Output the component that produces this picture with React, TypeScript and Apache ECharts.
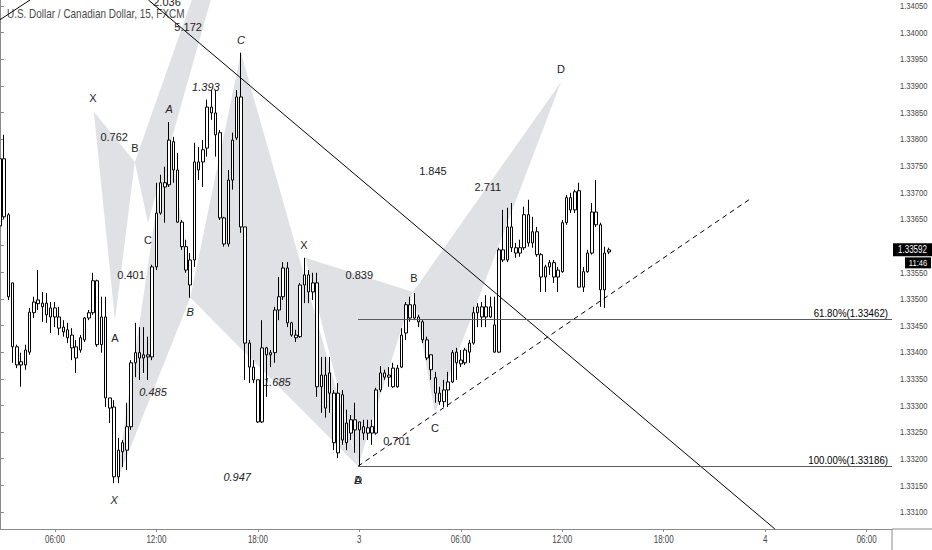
import React, { useEffect, useRef } from 'react';
import * as echarts from 'echarts';

// 15-minute bars, [open, close, low, high]; index 0 is day 2, 02:45
const candles = [
  [1.33637, 1.33763, 1.33630, 1.33780], [1.33763, 1.33654, 1.33650, 1.33808], [1.33658, 1.33504, 1.33498, 1.33661],
  [1.33530, 1.33410, 1.33380, 1.33530], [1.33410, 1.33376, 1.33370, 1.33414], [1.33376, 1.33382, 1.33335, 1.33399],
  [1.33376, 1.33404, 1.33367, 1.33414], [1.33400, 1.33475, 1.33395, 1.33483], [1.33474, 1.33494, 1.33464, 1.33504],
  [1.33491, 1.33498, 1.33479, 1.33554], [1.33492, 1.33485, 1.33457, 1.33513], [1.33492, 1.33470, 1.33455, 1.33511],
  [1.33466, 1.33483, 1.33436, 1.33494], [1.33483, 1.33466, 1.33447, 1.33494], [1.33466, 1.33445, 1.33432, 1.33485],
  [1.33447, 1.33438, 1.33429, 1.33460], [1.33442, 1.33427, 1.33417, 1.33455], [1.33432, 1.33408, 1.33385, 1.33445],
  [1.33410, 1.33389, 1.33361, 1.33423], [1.33404, 1.33427, 1.33399, 1.33432], [1.33423, 1.33464, 1.33419, 1.33466],
  [1.33464, 1.33474, 1.33460, 1.33479], [1.33474, 1.33534, 1.33470, 1.33549], [1.33534, 1.33414, 1.33410, 1.33536],
  [1.33414, 1.33466, 1.33399, 1.33504], [1.33466, 1.33314, 1.33297, 1.33504], [1.33314, 1.33295, 1.33267, 1.33314],
  [1.33297, 1.33166, 1.33154, 1.33310], [1.33166, 1.33216, 1.33154, 1.33239], [1.33213, 1.33230, 1.33184, 1.33235],
  [1.33216, 1.33260, 1.33179, 1.33305], [1.33260, 1.33380, 1.33254, 1.33385], [1.33380, 1.33399, 1.33353, 1.33455],
  [1.33399, 1.33389, 1.33348, 1.33447], [1.33389, 1.33395, 1.33361, 1.33447], [1.33391, 1.33395, 1.33348, 1.33429],
  [1.33391, 1.33560, 1.33385, 1.33564], [1.33560, 1.33661, 1.33554, 1.33718], [1.33661, 1.33718, 1.33658, 1.33733],
  [1.33718, 1.33710, 1.33643, 1.33748], [1.33714, 1.33798, 1.33710, 1.33832], [1.33795, 1.33742, 1.33718, 1.33804],
  [1.33742, 1.33644, 1.33643, 1.33774], [1.33644, 1.33598, 1.33592, 1.33648], [1.33598, 1.33554, 1.33549, 1.33611],
  [1.33573, 1.33526, 1.33502, 1.33586], [1.33573, 1.33757, 1.33560, 1.33793], [1.33757, 1.33742, 1.33723, 1.33785],
  [1.33757, 1.33780, 1.33710, 1.33798], [1.33783, 1.33860, 1.33767, 1.33874], [1.33860, 1.33849, 1.33836, 1.33892],
  [1.33849, 1.33808, 1.33767, 1.33892], [1.33812, 1.33652, 1.33648, 1.33817], [1.33652, 1.33603, 1.33598, 1.33654],
  [1.33603, 1.33723, 1.33598, 1.33742], [1.33723, 1.33798, 1.33705, 1.33812], [1.33802, 1.33879, 1.33798, 1.33892],
  [1.33879, 1.33635, 1.33624, 1.33962], [1.33635, 1.33417, 1.33348, 1.33635], [1.33417, 1.33372, 1.33342, 1.33423],
  [1.33372, 1.33348, 1.33342, 1.33385], [1.33348, 1.33269, 1.33267, 1.33348], [1.33269, 1.33408, 1.33267, 1.33460],
  [1.33408, 1.33395, 1.33316, 1.33410], [1.33395, 1.33399, 1.33372, 1.33404], [1.33399, 1.33479, 1.33380, 1.33485],
  [1.33479, 1.33504, 1.33460, 1.33541], [1.33504, 1.33558, 1.33498, 1.33569], [1.33558, 1.33455, 1.33447, 1.33569],
  [1.33455, 1.33432, 1.33429, 1.33457], [1.33432, 1.33427, 1.33419, 1.33442], [1.33429, 1.33526, 1.33427, 1.33530],
  [1.33526, 1.33545, 1.33492, 1.33577], [1.33545, 1.33513, 1.33492, 1.33554], [1.33513, 1.33530, 1.33498, 1.33549],
  [1.33530, 1.33335, 1.33316, 1.33549], [1.33335, 1.33357, 1.33286, 1.33391], [1.33357, 1.33295, 1.33277, 1.33391],
  [1.33323, 1.33361, 1.33286, 1.33391], [1.33323, 1.33230, 1.33216, 1.33329], [1.33323, 1.33211, 1.33201, 1.33342],
  [1.33235, 1.33320, 1.33226, 1.33329], [1.33267, 1.33230, 1.33216, 1.33292], [1.33248, 1.33273, 1.33235, 1.33282],
  [1.33273, 1.33254, 1.33211, 1.33305], [1.33254, 1.33269, 1.33186, 1.33269], [1.33260, 1.33248, 1.33235, 1.33273],
  [1.33248, 1.33258, 1.33235, 1.33273], [1.33260, 1.33248, 1.33226, 1.33273], [1.33248, 1.33329, 1.33245, 1.33333],
  [1.33329, 1.33361, 1.33325, 1.33374], [1.33361, 1.33353, 1.33348, 1.33367], [1.33353, 1.33357, 1.33335, 1.33372],
  [1.33335, 1.33370, 1.33333, 1.33380], [1.33370, 1.33335, 1.33333, 1.33376], [1.33372, 1.33432, 1.33370, 1.33445],
  [1.33436, 1.33489, 1.33423, 1.33494], [1.33489, 1.33464, 1.33457, 1.33504], [1.33464, 1.33489, 1.33460, 1.33511],
  [1.33466, 1.33457, 1.33447, 1.33470], [1.33457, 1.33423, 1.33417, 1.33460], [1.33423, 1.33389, 1.33385, 1.33429],
  [1.33395, 1.33367, 1.33348, 1.33395], [1.33352, 1.33323, 1.33305, 1.33363], [1.33323, 1.33307, 1.33301, 1.33335],
  [1.33307, 1.33329, 1.33297, 1.33348], [1.33329, 1.33344, 1.33297, 1.33363], [1.33344, 1.33399, 1.33342, 1.33404],
  [1.33380, 1.33400, 1.33348, 1.33408], [1.33385, 1.33378, 1.33372, 1.33404], [1.33380, 1.33404, 1.33376, 1.33408],
  [1.33400, 1.33417, 1.33380, 1.33423], [1.33417, 1.33474, 1.33414, 1.33485], [1.33474, 1.33485, 1.33447, 1.33492],
  [1.33485, 1.33466, 1.33447, 1.33494], [1.33466, 1.33485, 1.33447, 1.33507], [1.33485, 1.33466, 1.33464, 1.33504],
  [1.33451, 1.33400, 1.33399, 1.33504], [1.33400, 1.33592, 1.33399, 1.33596], [1.33592, 1.33573, 1.33569, 1.33667],
  [1.33573, 1.33635, 1.33569, 1.33671], [1.33635, 1.33596, 1.33588, 1.33680], [1.33596, 1.33586, 1.33577, 1.33605],
  [1.33586, 1.33596, 1.33579, 1.33611], [1.33596, 1.33658, 1.33592, 1.33673], [1.33658, 1.33605, 1.33598, 1.33686],
  [1.33605, 1.33626, 1.33596, 1.33654], [1.33626, 1.33583, 1.33579, 1.33635], [1.33583, 1.33541, 1.33513, 1.33586],
  [1.33541, 1.33560, 1.33513, 1.33564], [1.33560, 1.33568, 1.33545, 1.33573], [1.33568, 1.33541, 1.33530, 1.33573],
  [1.33541, 1.33554, 1.33513, 1.33560], [1.33551, 1.33643, 1.33549, 1.33648], [1.33643, 1.33690, 1.33639, 1.33695],
  [1.33690, 1.33667, 1.33661, 1.33699], [1.33667, 1.33701, 1.33661, 1.33705], [1.33703, 1.33522, 1.33522, 1.33718],
  [1.33522, 1.33551, 1.33513, 1.33560], [1.33551, 1.33586, 1.33549, 1.33592], [1.33586, 1.33663, 1.33583, 1.33680],
  [1.33663, 1.33639, 1.33635, 1.33723], [1.33639, 1.33517, 1.33485, 1.33643], [1.33517, 1.33586, 1.33483, 1.33598],
  [1.33588, 1.33592, 1.33584, 1.33596],
];

const lastBar = 211;
const tickIndex = [13, 37, 61, 85, 109, 133, 157, 181, 205];
const tickLabels = ['06:00', '12:00', '18:00', '3', '06:00', '12:00', '18:00', '4', '06:00'];
const priceMin = 1.33068;
const priceMax = 1.34061;
const priceTicks = [
  1.331, 1.3315, 1.332, 1.3325, 1.333, 1.3335, 1.334, 1.3345, 1.335, 1.3355,
  1.336, 1.3365, 1.337, 1.3375, 1.338, 1.3385, 1.339, 1.3395, 1.34, 1.3405,
];

const lastPrice = 1.33592;
const lastTime = '11:46';

// X, A, B, C, D points of each harmonic pattern: [bar, price]
const patternLeft = [[22.2, 1.33851], [27.2, 1.3346], [31.9, 1.33757], [35.0, 1.33643], [68.1, 1.34574]];
const patternMid = [[27.4, 1.33153], [40.0, 1.33832], [45.0, 1.33502], [57.0, 1.33962], [84.7, 1.33186]];
const patternRight = [[72.2, 1.33577], [84.7, 1.33186], [97.7, 1.33513], [102.9, 1.33286], [132.7, 1.33907]];

const uprightLabels: [string, number, number][] = [
  ['X', 22.0, 1.33877], ['A', 27.2, 1.33427], ['B', 31.9, 1.33783], ['C', 35.0, 1.33611],
  ['0.762', 27.0, 1.33804], ['0.401', 31.0, 1.33545], ['2.036', 39.5, 1.34058], ['5.172', 44.5, 1.34011],
  ['X', 71.9, 1.33601], ['A', 84.7, 1.3316], ['B', 97.9, 1.33539], ['C', 102.9, 1.33258], ['D', 132.7, 1.33932],
  ['0.839', 85.0, 1.33545], ['0.701', 93.9, 1.33233], ['1.845', 102.4, 1.3374], ['2.711', 115.4, 1.3371],
];
const italicLabels: [string, number, number][] = [
  ['X', 27.0, 1.33122], ['A', 40.0, 1.33857], ['B', 45.0, 1.33475], ['C', 57.0, 1.33986], ['D', 84.7, 1.3316],
  ['1.393', 48.7, 1.33898], ['0.485', 36.2, 1.33325], ['1.685', 65.5, 1.33344], ['0.947', 56.1, 1.33166],
];

const trendLines = [
  [[0, 1.34024], [7.1, 1.34061]],
  [[35.1, 1.34061], [183.3, 1.33068]],
];
const supportLine = [[84.7, 1.33186], [177.9, 1.3369]];
const fibStart = 84.7;
const fibLevels: [string, number][] = [['61.80%', 1.33462], ['100.00%', 1.33186]];

const sansFont = '"Liberation Sans", Arial, sans-serif';
const axisGrey = '#8a8a8a';
const squeeze = 0.8; // the reference uses a condensed face for its small texts

function triangles(p: number[][]) {
  return [[p[0], p[1], p[2]], [p[2], p[3], p[4]]];
}

export default function App() {
  const chartRef = useRef<HTMLDivElement>(null);

  useEffect(() => {
    if (!chartRef.current) return;
    document.body.style.margin = '0';
    const chart = echarts.init(chartRef.current, null, { renderer: 'svg' });

    const shapes = [...triangles(patternLeft), ...triangles(patternMid), ...triangles(patternRight)];
    const visibleTicks = priceTicks.filter(v => Math.abs(v - lastPrice) > 0.0002); // 1.33600 is under the tag

    const textSeries = (labels: [string, number, number][], italic: boolean) => ({
      type: 'custom',
      z: 5,
      silent: true,
      data: labels.map(l => [l[1], l[2]]),
      renderItem: (params: any, api: any) => {
        const [t, x, y] = labels[params.dataIndex];
        const pt = api.coord([x, y]);
        return {
          type: 'text',
          x: pt[0],
          y: pt[1],
          style: {
            text: t,
            fill: '#222',
            fontSize: 11,
            fontFamily: sansFont,
            fontStyle: italic ? 'italic' : 'normal',
            align: 'center',
            verticalAlign: 'middle',
          },
        };
      },
    });

    const smallText = (text: string, x: number, y: number, align: string, vAlign: string, size = 10, fill = '#444', sx = squeeze) => ({
      type: 'text',
      x,
      y,
      scaleX: sx,
      style: { text, fill, fontSize: size, fontFamily: sansFont, align, verticalAlign: vAlign },
    });

    const option = {
      animation: false,
      backgroundColor: '#fff',
      grid: { left: 0, right: 40, top: 0, bottom: 21 },
      xAxis: {
        type: 'value',
        min: 0,
        max: lastBar,
        splitLine: { show: false },
        axisLine: { show: true, onZero: false, lineStyle: { color: axisGrey } },
        axisTick: { show: true, length: 3, customValues: tickIndex, lineStyle: { color: axisGrey } },
        axisLabel: { show: false },
      },
      yAxis: {
        type: 'value',
        position: 'right',
        min: priceMin,
        max: priceMax,
        splitLine: { show: false },
        axisLine: { show: true, lineStyle: { color: axisGrey } },
        axisTick: { show: true, length: 4, customValues: priceTicks, lineStyle: { color: axisGrey } },
        axisLabel: { show: false },
      },
      graphic: [
        {
          type: 'text',
          x: 7,
          y: 14,
          scaleX: 0.83,
          style: {
            text: 'U.S. Dollar / Canadian Dollar, 15, FXCM',
            fill: '#4a4a4a',
            fontSize: 12,
            fontFamily: sansFont,
            verticalAlign: 'middle',
          },
        },
        { type: 'line', shape: { x1: 892, y1: 529, x2: 892, y2: 550 }, style: { stroke: axisGrey } },
        { type: 'line', shape: { x1: 892, y1: 529, x2: 932, y2: 529 }, style: { stroke: axisGrey } },
      ],
      series: [
        {
          type: 'custom',
          z: 1,
          clip: true,
          silent: true,
          data: shapes.map(s => s[0]),
          renderItem: (params: any, api: any) => ({
            type: 'polygon',
            shape: { points: shapes[params.dataIndex].map(p => api.coord(p)) },
            style: { fill: '#e0e1e5' },
          }),
        },
        {
          type: 'candlestick',
          z: 2,
          barWidth: 3,
          data: candles.map((c, i) => [i, ...c]),
          itemStyle: {
            color: '#fff',
            color0: '#fff',
            borderColor: '#000',
            borderColor0: '#000',
            borderWidth: 1,
          },
          markLine: {
            silent: true,
            symbol: ['none', 'none'],
            label: { show: false },
            lineStyle: { color: '#000', width: 1, type: 'solid' },
            emphasis: { disabled: true },
            data: [
              ...trendLines.map(([a, b]) => [{ coord: a }, { coord: b }]),
              [{ coord: supportLine[0], lineStyle: { type: [5, 4], color: '#000', width: 1 } }, { coord: supportLine[1] }],
              ...fibLevels.map(([, v]) => [
                { coord: [fibStart, v], lineStyle: { color: '#5a5a5a', width: 1, type: 'solid' } },
                { coord: [lastBar, v] },
              ]),
            ],
          },
        },
        textSeries(uprightLabels, false),
        textSeries(italicLabels, true),
        // fib level labels, right aligned just above their lines
        {
          type: 'custom',
          z: 6,
          silent: true,
          data: fibLevels.map(f => [lastBar, f[1]]),
          renderItem: (params: any, api: any) => {
            const [name, v] = fibLevels[params.dataIndex];
            const pt = api.coord([lastBar, v]);
            return smallText(`${name}(${v.toFixed(5)})`, pt[0] - 4, pt[1] - 1, 'right', 'bottom', 10, '#000', 0.97);
          },
        },
        // price scale labels
        {
          type: 'custom',
          z: 8,
          silent: true,
          data: visibleTicks.map(v => [lastBar, v]),
          renderItem: (params: any, api: any) => {
            const v = visibleTicks[params.dataIndex];
            const pt = api.coord([lastBar, v]);
            return smallText(v.toFixed(5), pt[0] + 8, pt[1], 'left', 'middle', 9.5);
          },
        },
        // time scale labels
        {
          type: 'custom',
          z: 8,
          silent: true,
          data: tickIndex.map(i => [i, priceMin]),
          renderItem: (params: any, api: any) => {
            const pt = api.coord([tickIndex[params.dataIndex], priceMin]);
            return smallText(tickLabels[params.dataIndex], pt[0], pt[1] + 11, 'center', 'middle');
          },
        },
        // last price and time tags
        {
          type: 'custom',
          z: 10,
          silent: true,
          clip: false,
          data: [[lastBar, lastPrice]],
          renderItem: (_params: any, api: any) => {
            const pt = api.coord([lastBar, lastPrice]);
            return {
              type: 'group',
              children: [
                { type: 'rect', shape: { x: pt[0] + 1, y: pt[1] - 6.5, width: 39, height: 13 }, style: { fill: '#000' } },
                smallText(lastPrice.toFixed(5), pt[0] + 20.5, pt[1], 'center', 'middle', 10, '#fff'),
                { type: 'rect', shape: { x: pt[0] + 13, y: pt[1] + 7.5, width: 26, height: 11 }, style: { fill: '#000' } },
                smallText(lastTime, pt[0] + 26, pt[1] + 13, 'center', 'middle', 9.5, '#fff'),
              ],
            };
          },
        },
      ],
    };

    chart.setOption(option as any);

    return () => {
      chart.dispose();
    };
  }, []);

  return <div ref={chartRef} style={{ width: '932px', height: '550px' }} />;
}
